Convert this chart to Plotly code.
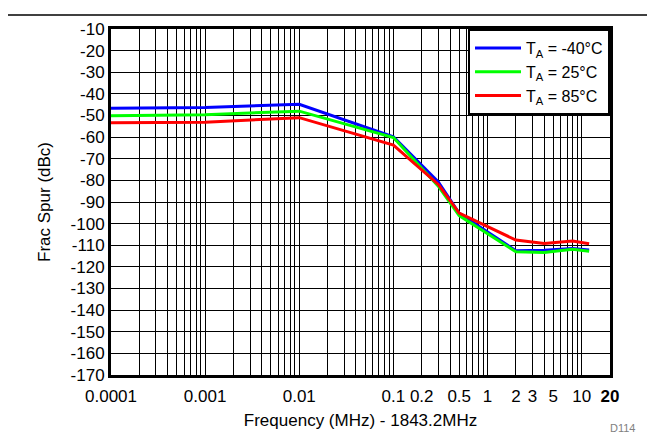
import math
import plotly.graph_objects as go

# Data
freq_mhz = [0.0001, 0.001, 0.01, 0.1, 0.3, 0.5, 2, 4, 8, 12]
spur_m40 = [-46.7, -46.3, -44.8, -59.9, -80.7, -95.2, -112.5, -112.3, -111.5, -112.2]
spur_25 = [-50.1, -49.6, -48.0, -60.2, -82.7, -96.3, -113.0, -113.3, -111.9, -112.8]
spur_85 = [-53.3, -53.1, -51.0, -63.7, -81.9, -95.1, -107.6, -109.2, -108.0, -109.3]

series_names = ["T<sub>A</sub> = -40°C", "T<sub>A</sub> = 25°C", "T<sub>A</sub> = 85°C"]
series_colors = ["#0000FF", "#00FF00", "#FF0000"]

x_tick_vals = [0.0001, 0.001, 0.01, 0.1, 0.2, 0.5, 1, 2, 3, 5, 10, 20]
x_tick_text = ["0.0001", "0.001", "0.01", "0.1", "0.2", "0.5", "1", "2", "3", "5", "10", "<b>20</b>"]
y_tick_vals = list(range(-170, 0, 10))
y_tick_text = [str(v) for v in y_tick_vals]  # plain hyphen minus

FONT = "Liberation Sans, Arial, sans-serif"
FS = 17

fig = go.Figure()
for name, ys, col in zip(series_names, [spur_m40, spur_25, spur_85], series_colors):
    fig.add_trace(go.Scatter(x=freq_mhz, y=ys, mode="lines", name=name,
                             line=dict(color=col, width=3)))

minor_vals = [m * 10 ** e for e in range(-4, 2) for m in range(1, 10)]

# layout pixel geometry (page body adds an 8px offset)
L, R, T, B = 103, 53, 15, 67
PW = 655 - L - R
PH = 434 - T - B

fig.update_layout(
    width=655, height=434,
    margin=dict(l=L, r=R, t=T, b=B),
    paper_bgcolor="white", plot_bgcolor="white",
    font=dict(family=FONT, size=FS, color="black"),
    showlegend=True,
    legend=dict(x=1, y=1, xanchor="right", yanchor="top",
                bgcolor="white", bordercolor="black", borderwidth=2,
                font=dict(size=16, family=FONT), tracegroupgap=0,
                itemwidth=46),
    xaxis=dict(type="log", range=[math.log10(0.0001), math.log10(20)],
               tickmode="array", tickvals=x_tick_vals, ticktext=x_tick_text,
               showgrid=True, gridcolor="black", gridwidth=1,
               minor=dict(tickmode="array", tickvals=minor_vals, showgrid=True,
                          gridcolor="black", gridwidth=1, ticks=""),
               showline=True, linecolor="black", linewidth=3, mirror=True,
               ticks="", tickfont=dict(size=FS), ticklabelstandoff=4,
               title=dict(text="Frequency (MHz) - 1843.2MHz", font=dict(size=FS), standoff=9),
               zeroline=False),
    yaxis=dict(range=[-170, -10], tickmode="array", tickvals=y_tick_vals, ticktext=y_tick_text,
               showgrid=True, gridcolor="black", gridwidth=1,
               showline=True, linecolor="black", linewidth=3, mirror=True,
               ticks="", tickfont=dict(size=FS),
               title=dict(text="Frac Spur (dBc)", font=dict(size=FS), standoff=16),
               zeroline=False),
    shapes=[dict(type="line", xref="paper", yref="paper",
                 x0=-L / PW, x1=(655 - L) / PW,
                 y0=1 + (T - 0.75) / PH, y1=1 + (T - 0.75) / PH,
                 line=dict(color="black", width=1.5))],
    annotations=[dict(text="D114", xref="paper", yref="paper",
                      x=(614 - L) / PW, y=(PH + T - 421) / PH,
                      xanchor="center", yanchor="middle", showarrow=False,
                      font=dict(size=11, color="#808080", family=FONT))],
)

fig.write_html("out.html")
